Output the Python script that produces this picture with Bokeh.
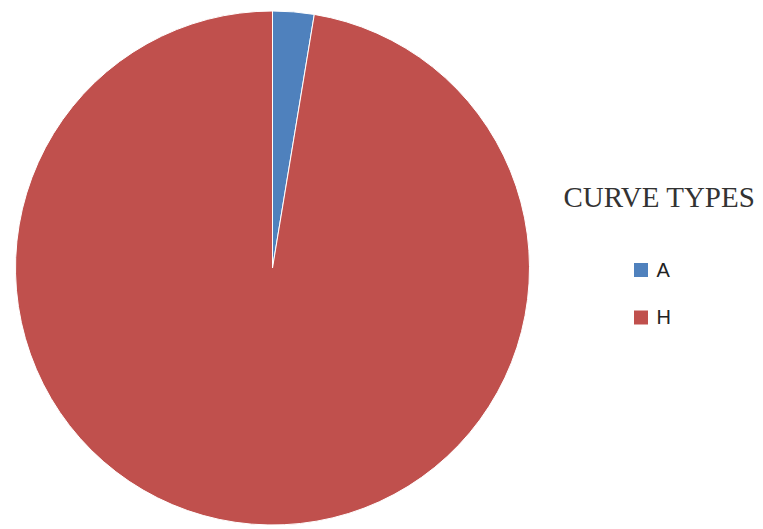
from bokeh.plotting import figure
from bokeh.models import Range1d, ColumnDataSource
from bokeh.core.properties import value
from bokeh.embed import file_html
from bokeh.resources import INLINE
import math

# Data
categories = ["A", "H"]
values = [2.6, 97.4]
colors = ["#4F81BD", "#C0504D"]
legend_title = "CURVE TYPES"

W, H = 763, 529
p = figure(width=W, height=H, output_backend="svg", toolbar_location=None,
           x_range=Range1d(0, W), y_range=Range1d(0, H), min_border=0)
p.axis.visible = False
p.grid.visible = False
p.outline_line_color = None
p.background_fill_color = "white"
p.border_fill_color = "white"

# pie geometry
cx, cy, r = 272, 261.5, 257
total = sum(values)
starts, ends = [], []
acc = 0.0
for v in values:
    a0 = math.pi / 2 - 2 * math.pi * acc / total
    acc += v
    a1 = math.pi / 2 - 2 * math.pi * acc / total
    starts.append(a0)
    ends.append(a1)

src = ColumnDataSource(dict(start=starts, end=ends, color=colors, cat=categories))
p.wedge(x=cx, y=cy, radius=r, start_angle="start", end_angle="end",
        direction="clock", fill_color="color", line_color="white", line_width=1,
        source=src)

# legend
p.text(x=[563], y=[333], text=[legend_title], text_font=value("Liberation Serif"),
       text_font_size="29px", text_color="#333333", text_baseline="alphabetic")

row0 = 259.5
step = 47.5
ys = [row0 - i * step for i in range(len(categories))]
lsrc = ColumnDataSource(dict(x=[640.5] * len(categories), y=ys, color=colors,
                             tx=[656] * len(categories), ty=[y + 0.5 for y in ys],
                             cat=categories))
p.rect(x="x", y="y", width=14, height=14, fill_color="color", line_color=None, source=lsrc)
p.text(x="tx", y="ty", text="cat", text_font=value("Liberation Sans"),
       text_font_size="20px", text_color="#222222", text_baseline="alphabetic", source=lsrc)

open("out.html", "w").write(file_html(p, INLINE))
